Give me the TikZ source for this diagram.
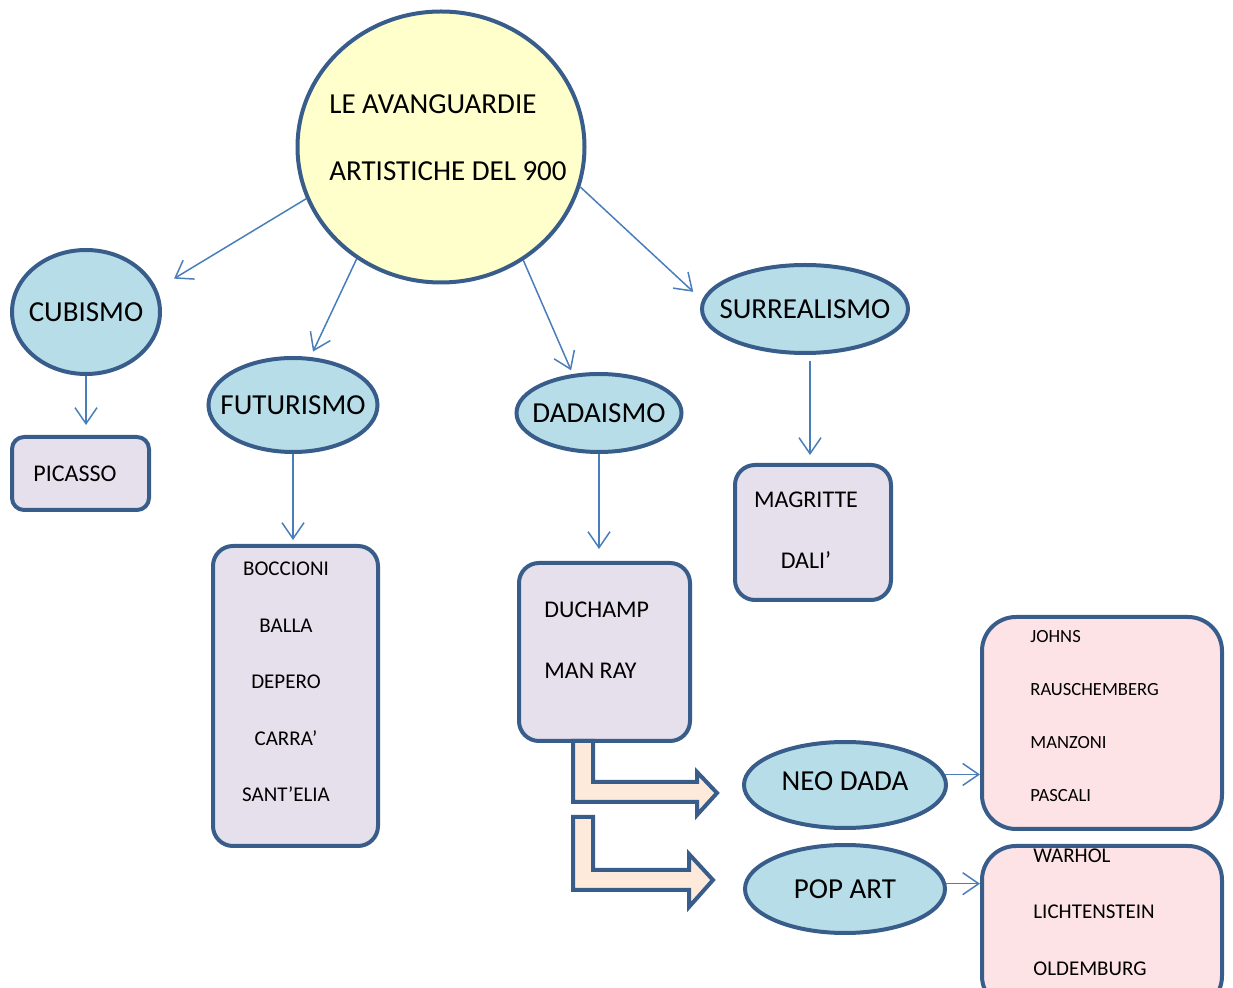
\documentclass[tikz,border=0pt]{standalone}
\usepackage{fontspec}
\setmainfont{Carlito}
\usetikzlibrary{shapes.geometric,arrows.meta}
\definecolor{edge}{RGB}{56,93,138}
\definecolor{link}{RGB}{74,126,187}
\definecolor{sky}{RGB}{183,222,232}
\definecolor{lilac}{RGB}{229,224,236}
\definecolor{blush}{RGB}{253,227,229}
\definecolor{cream}{RGB}{255,255,204}
\definecolor{peach}{RGB}{253,234,218}
% label that does not widen its ellipse
\newcommand{\mvlabel}[1]{\makebox[0pt]{#1}}
\tikzset{
  movement/.style={ellipse, draw=edge, fill=sky, line width=2pt, inner sep=0pt,
    font=\fontsize{14.5}{17}\selectfont},
  namebox/.style={draw=edge, fill=lilac, line width=2pt, rounded corners=10pt},
  artists/.style={inner sep=0pt},
  link/.style={draw=link, line width=0.75pt, -{Straight Barb[length=8pt,width=11pt]}},
  bent/.style={draw=edge, fill=peach, line width=2pt, line join=miter}
}
\begin{document}
\begin{tikzpicture}[x=0.5pt,y=-0.5pt]
    \useasboundingbox (0,0) rectangle (1233,988);
    % main circle
    \node[ellipse, draw=edge, fill=cream, line width=2pt, minimum width=143.5pt, minimum height=135.5pt] (avant) at (441,147) {};
    \node[artists, align=left, font=\fontsize{14.5}{33.5}\selectfont] (avanttext) at (448,138) {LE AVANGUARDIE\\ARTISTICHE DEL 900};
    % movements
    \node[movement, minimum width=74pt, minimum height=62pt] (cubismo) at (86,312) {\mvlabel{CUBISMO}};
    \node[movement, minimum width=84.5pt, minimum height=47pt] (futurismo) at (293,405) {\mvlabel{FUTURISMO}};
    \node[movement, minimum width=82.5pt, minimum height=39pt] (dadaismo) at (599,413) {\mvlabel{DADAISMO}};
    \node[movement, minimum width=103pt, minimum height=44pt] (surrealismo) at (805,309) {\mvlabel{SURREALISMO}};
    \node[movement, minimum width=101pt, minimum height=43pt] (neodada) at (845,785) {\mvlabel{\raisebox{3.5pt}{NEO DADA}}};
    \node[movement, minimum width=100pt, minimum height=44pt] (popart) at (845,889) {\mvlabel{POP ART}};
    % boxes of names
    \node[namebox, rounded corners=6pt, minimum width=68.5pt, minimum height=36.5pt] (picbox) at (80.5,473.5) {};
    \node[artists, anchor=west, font=\fontsize{12}{14}\selectfont] (picnames) at (33,474) {PICASSO};
    \node[namebox, minimum width=82.5pt, minimum height=150pt] (futbox) at (295.5,696) {};
    \node[artists, align=center, font=\fontsize{10.5}{28.25}\selectfont] (futnames) at (286,682) {BOCCIONI\\BALLA\\DEPERO\\CARRA’\\SANT’ELIA};
    \node[namebox, minimum width=85.5pt, minimum height=89pt] (dadbox) at (604.5,652) {};
    \node[artists, anchor=west, align=left, font=\fontsize{12}{30.5}\selectfont] (dadnames) at (544,640) {DUCHAMP\\MAN RAY};
    \node[namebox, minimum width=78pt, minimum height=67.5pt] (surbox) at (813,532.5) {};
    \node[artists, align=center, font=\fontsize{12}{30.5}\selectfont] (surnames) at (806,530) {MAGRITTE\\DALI’};
    \node[namebox, fill=blush, rounded corners=17pt, minimum width=120pt, minimum height=106pt] (neobox) at (1102,723) {};
    \node[artists, anchor=west, align=left, font=\fontsize{9.3}{26.5}\selectfont] (neonames) at (1030,716) {JOHNS\\RAUSCHEMBERG\\MANZONI\\PASCALI};
    \node[namebox, fill=blush, rounded corners=17pt, minimum width=120pt, minimum height=82pt] (popbox) at (1102,928) {};
    \node[artists, anchor=west, align=left, font=\fontsize{10.5}{28.25}\selectfont] (popnames) at (1033,912) {WARHOL\\LICHTENSTEIN\\OLDEMBURG};
    % connectors
    \draw[link, shorten >=10pt] (avant.201) -- (cubismo.18);
    \draw[link, shorten >=3pt] (avant.233) -- (futurismo.70);
    \draw[link, shorten >=2pt] (avant.306) -- (dadaismo.124);
    \draw[link, shorten >=6pt] (avant.344) -- (surrealismo.175.5);
    \draw[link, shorten >=5pt] (cubismo.south) -- (cubismo.south |- picbox.north);
    \draw[link, shorten >=2pt] (futurismo.south) -- (futurismo.south |- futbox.north);
    \draw[link, shorten >=6pt] (dadaismo.south) -- (dadaismo.south |- dadbox.north);
    \draw[link, shorten <=3pt, shorten >=4pt] ([xshift=2.5pt]surrealismo.south) -- ([xshift=2.5pt]surrealismo.south |- surbox.north);
    \draw[link] (neodada.6) -- (neodada.6 -| neobox.west);
    \draw[link] (popart.3) -- (popart.3 -| popbox.west);
    % bent arrows
    \draw[bent] (573,741) -- (573,802) -- (697,802) -- (697,815) -- (717,793) -- (697,772) -- (697,782) -- (593,782) -- (593,741) -- cycle;
    \draw[bent] (573,817) -- (573,890) -- (689,890) -- (689,907) -- (713,880) -- (689,854) -- (689,870) -- (593,870) -- (593,817) -- cycle;
\end{tikzpicture}
\end{document}
